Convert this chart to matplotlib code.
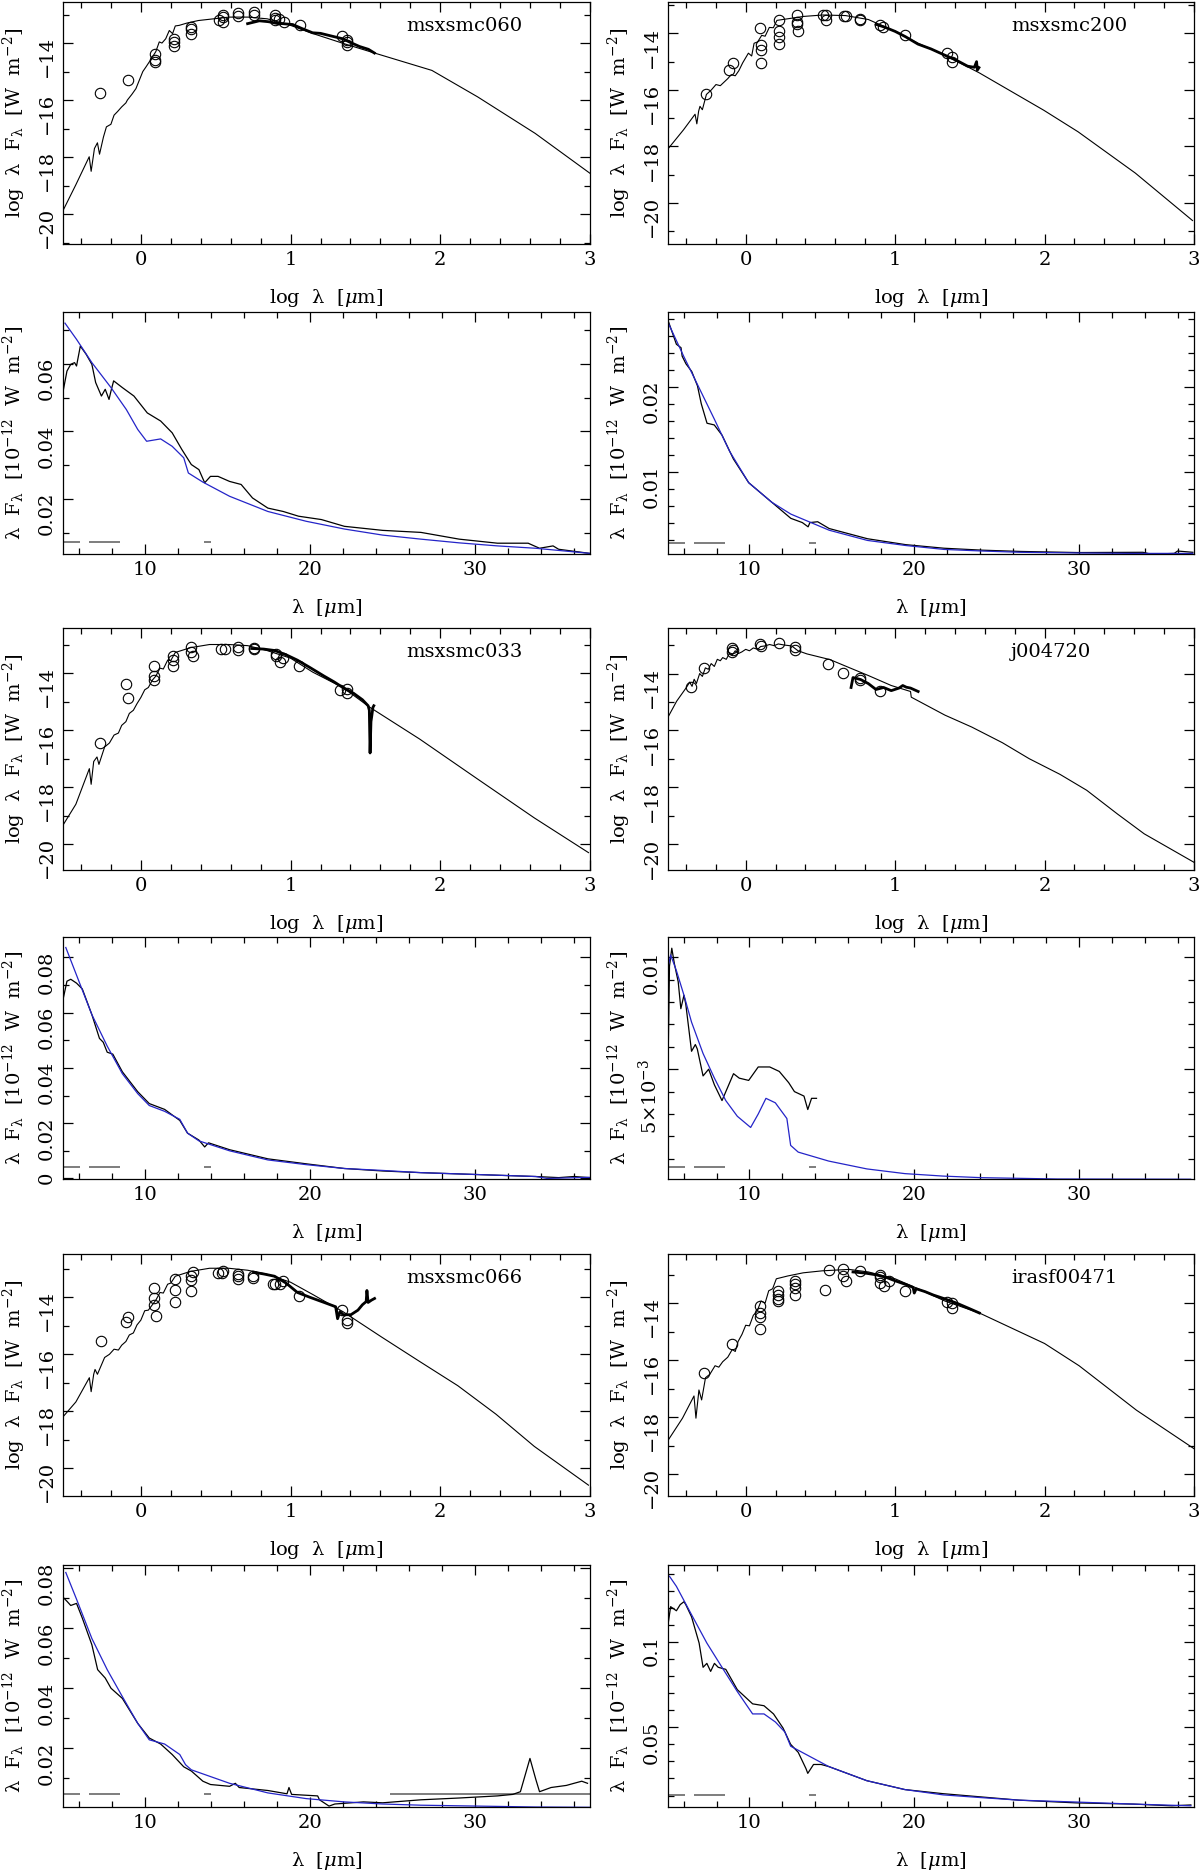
import matplotlib
matplotlib.use("Agg")
import matplotlib.pyplot as plt
from matplotlib.ticker import MultipleLocator, FuncFormatter

plt.rcParams['font.family'] = ['DejaVu Serif']
plt.rcParams['mathtext.fontset'] = 'dejavuserif'
plt.rcParams['font.size'] = 14

# ---------------- SED panels: log lambda vs log lambda F_lambda ----------------
# msxsmc060
m060_x = [-0.524, -0.435, -0.345, -0.332, -0.31, -0.29, -0.276, -0.25, -0.23, -0.2, -0.179, -0.155, -0.128, -0.1,
          -0.09, -0.06, -0.033, -0.01, 0.013, 0.034, 0.064, 0.077, 0.1, 0.123, 0.141, 0.166, 0.19, 0.212, 0.23,
          0.256, 0.307, 0.384, 0.486, 0.588, 0.716, 0.844, 1.0, 1.151, 1.356, 1.573, 1.944, 2.25, 2.634, 3.0]
m060_y = [-19.92, -18.98, -17.99, -18.5, -17.7, -17.5, -17.9, -17.3, -16.94, -16.85, -16.53, -16.4, -16.24, -16.1,
          -16.0, -15.8, -15.6, -15.3, -15.0, -14.84, -14.6, -14.49, -14.3, -13.96, -14.0, -13.85, -13.56, -13.67,
          -13.4, -13.38, -13.3, -13.21, -13.15, -13.09, -13.09, -13.15, -13.38, -13.67, -14.02, -14.37, -14.96,
          -15.89, -17.17, -18.57]
irs060_x = [0.713, 0.791, 0.85, 0.903, 1.014, 1.08, 1.147, 1.2, 1.27, 1.348, 1.4, 1.46, 1.52, 1.56]
irs060_y = [-13.32, -13.22, -13.25, -13.3, -13.35, -13.5, -13.64, -13.66, -13.75, -13.85, -13.98, -14.12, -14.22, -14.35]
ph060_x = [-0.271, -0.089, 0.094, 0.094, 0.094, 0.223, 0.223, 0.223, 0.335, 0.335, 0.335, 0.52, 0.546, 0.546, 0.546,
           0.651, 0.651, 0.758, 0.758, 0.898, 0.898, 0.898, 0.925, 0.958, 1.063, 1.344, 1.375, 1.375, 1.375]
ph060_y = [-15.75, -15.31, -14.37, -14.6, -14.67, -13.85, -13.96, -14.12, -13.42, -13.5, -13.67, -13.2, -13.0, -13.09,
           -13.26, -12.95, -13.05, -12.91, -13.0, -13.0, -13.12, -13.2, -13.14, -13.26, -13.38, -13.77, -13.91,
           -13.96, -14.06]

# msxsmc200
m200_x = [-0.513, -0.416, -0.339, -0.327, -0.315, -0.306, -0.29, -0.263, -0.23, -0.199, -0.17, -0.148, -0.12, -0.097,
          -0.07, -0.046, -0.02, 0.018, 0.04, 0.056, 0.08, 0.107, 0.13, 0.158, 0.185, 0.209, 0.286, 0.388, 0.515,
          0.668, 0.821, 1.0, 1.153, 1.332, 1.561, 1.995, 2.224, 2.607, 2.99]
m200_y = [-18.04, -17.41, -16.86, -17.2, -16.75, -16.58, -16.7, -16.16, -16.0, -15.81, -15.85, -15.74, -15.6, -15.46,
          -15.5, -15.32, -15.04, -14.7, -14.8, -14.35, -14.3, -14.07, -14.1, -13.79, -13.8, -13.54, -13.48, -13.4,
          -13.35, -13.37, -13.51, -13.93, -14.35, -14.77, -15.39, -16.72, -17.48, -18.94, -20.62]
irs200_x = [0.872, 0.93, 1.0, 1.07, 1.153, 1.24, 1.332, 1.41, 1.485, 1.53, 1.545, 1.55, 1.561]
irs200_y = [-13.68, -13.78, -13.93, -14.12, -14.38, -14.55, -14.77, -14.95, -15.16, -15.2, -15.0, -15.3, -15.21]
ph200_x = [-0.263, -0.11, -0.084, 0.094, 0.102, 0.102, 0.102, 0.222, 0.222, 0.222, 0.222, 0.342, 0.342, 0.342, 0.35,
           0.52, 0.54, 0.54, 0.66, 0.67, 0.765, 0.765, 0.9, 0.92, 1.064, 1.344, 1.378, 1.378]
ph200_y = [-16.13, -15.3, -15.04, -13.82, -14.42, -14.6, -15.04, -13.51, -13.93, -14.14, -14.38, -13.35, -13.58, -13.68,
           -13.9, -13.35, -13.35, -13.54, -13.4, -13.37, -13.48, -13.54, -13.72, -13.79, -14.04, -14.7, -14.84, -15.02]

# msxsmc033
m033_x = [-0.523, -0.434, -0.344, -0.332, -0.315, -0.293, -0.28, -0.242, -0.21, -0.179, -0.15, -0.128, -0.1, -0.077,
          -0.05, -0.026, 0.0, 0.026, 0.05, 0.077, 0.1, 0.128, 0.15, 0.179, 0.2, 0.23, 0.332, 0.459, 0.587, 0.714,
          0.842, 1.0, 1.148, 1.352, 1.531, 1.862, 2.245, 2.628, 2.99]
m033_y = [-19.36, -18.6, -17.35, -17.9, -17.1, -16.94, -17.2, -16.59, -16.45, -16.17, -16.1, -15.83, -15.7, -15.41,
          -15.3, -15.07, -14.85, -14.58, -14.5, -14.24, -14.1, -13.82, -13.85, -13.54, -13.55, -13.27, -13.1, -12.99,
          -12.99, -13.03, -13.2, -13.47, -13.96, -14.51, -15.2, -16.31, -17.7, -19.08, -20.3]
irs033_x = [0.74, 0.82, 0.893, 0.97, 1.046, 1.13, 1.224, 1.29, 1.352, 1.42, 1.48, 1.518, 1.526, 1.531, 1.537, 1.543,
            1.55, 1.556]
irs033_y = [-13.13, -13.15, -13.2, -13.35, -13.54, -13.8, -14.1, -14.3, -14.51, -14.7, -14.93, -15.14, -15.3, -16.8,
            -15.7, -15.48, -15.2, -15.14]
ph033_x = [-0.276, -0.102, -0.084, 0.089, 0.089, 0.089, 0.217, 0.217, 0.217, 0.338, 0.338, 0.345, 0.535, 0.56, 0.65,
           0.65, 0.753, 0.753, 0.9, 0.905, 0.93, 0.949, 1.059, 1.33, 1.375, 1.375]
ph033_y = [-16.45, -14.37, -14.86, -13.75, -14.1, -14.24, -13.38, -13.54, -13.75, -13.06, -13.24, -13.38, -13.16,
           -13.16, -13.06, -13.2, -13.13, -13.15, -13.34, -13.4, -13.61, -13.47, -13.75, -14.58, -14.54, -14.68]

# j004720
m720_x = [-0.52, -0.462, -0.397, -0.375, -0.359, -0.345, -0.33, -0.308, -0.29, -0.27, -0.25, -0.231, -0.21, -0.19,
          -0.17, -0.154, -0.13, -0.11, -0.09, -0.07, -0.05, -0.026, 0.0, 0.025, 0.051, 0.08, 0.1, 0.128, 0.16, 0.19,
          0.218, 0.26, 0.308, 0.35, 0.41, 0.564, 0.692, 0.821, 0.974, 1.103, 1.108, 1.333, 1.513, 1.718, 1.897,
          2.103, 2.282, 2.487, 2.667, 3.0]
m720_y = [-15.53, -14.97, -14.49, -14.3, -14.45, -14.2, -14.35, -14.0, -14.1, -13.8, -13.85, -13.65, -13.75, -13.5,
          -13.55, -13.44, -13.5, -13.3, -13.35, -13.2, -13.3, -13.24, -13.15, -13.2, -13.1, -13.15, -13.05, -13.03,
          -12.98, -13.02, -12.96, -13.0, -13.03, -13.2, -13.31, -13.51, -13.79, -14.07, -14.42, -14.63, -14.83,
          -15.46, -15.88, -16.43, -16.99, -17.54, -18.1, -18.93, -19.63, -20.63]
irs720_x = [0.705, 0.712, 0.718, 0.769, 0.82, 0.872, 0.923, 0.974, 1.026, 1.051, 1.075, 1.103, 1.154]
irs720_y = [-14.49, -14.3, -14.14, -14.21, -14.35, -14.56, -14.49, -14.6, -14.51, -14.42, -14.48, -14.51, -14.63]
ph720_x = [-0.364, -0.277, -0.095, -0.09, -0.085, 0.095, 0.1, 0.223, 0.333, 0.333, 0.551, 0.654, 0.764, 0.764, 0.897]
ph720_y = [-14.46, -13.79, -13.12, -13.24, -13.18, -12.96, -13.03, -12.92, -13.07, -13.17, -13.65, -13.97, -14.14,
           -14.24, -14.63]

# msxsmc066
m066_x = [-0.523, -0.434, -0.344, -0.332, -0.315, -0.306, -0.29, -0.242, -0.21, -0.179, -0.15, -0.128, -0.1, -0.077,
          -0.05, -0.026, 0.0, 0.026, 0.05, 0.077, 0.1, 0.128, 0.15, 0.179, 0.2, 0.23, 0.332, 0.459, 0.587, 0.714,
          0.842, 1.0, 1.148, 1.352, 1.607, 1.862, 2.117, 2.372, 2.628, 2.99]
m066_y = [-18.21, -17.67, -16.82, -17.31, -16.7, -16.53, -16.7, -16.11, -16.0, -15.82, -15.85, -15.68, -15.55, -15.32,
          -15.25, -14.97, -14.8, -14.47, -14.45, -14.26, -14.1, -13.83, -13.85, -13.54, -13.5, -13.26, -13.09, -12.98,
          -12.98, -13.05, -13.19, -13.47, -13.9, -14.51, -15.39, -16.25, -17.1, -18.1, -19.23, -20.59]
irs066_x = [0.753, 0.82, 0.893, 0.97, 1.046, 1.13, 1.224, 1.301, 1.314, 1.33, 1.352, 1.403, 1.45, 1.48, 1.505, 1.51,
            1.518, 1.54, 1.561]
irs066_y = [-13.12, -13.18, -13.26, -13.5, -13.83, -14.0, -14.18, -14.33, -14.75, -14.5, -14.61, -14.61, -14.45,
            -14.26, -14.15, -13.76, -14.18, -14.1, -14.04]
ph066_x = [-0.268, -0.1, -0.085, 0.09, 0.09, 0.09, 0.098, 0.225, 0.225, 0.225, 0.332, 0.332, 0.332, 0.35, 0.515, 0.54,
           0.55, 0.65, 0.65, 0.65, 0.75, 0.75, 0.88, 0.893, 0.93, 0.949, 1.059, 1.344, 1.378, 1.378]
ph066_y = [-15.54, -14.87, -14.68, -13.69, -14.01, -14.26, -14.65, -13.37, -13.76, -14.18, -13.26, -13.4, -13.79,
           -13.12, -13.15, -13.15, -13.09, -13.19, -13.37, -13.26, -13.26, -13.33, -13.52, -13.55, -13.52, -13.44,
           -13.97, -14.43, -14.8, -14.9]

# irasf00471
m471_x = [-0.52, -0.423, -0.346, -0.333, -0.313, -0.295, -0.269, -0.24, -0.205, -0.18, -0.154, -0.12, -0.09, -0.07,
          -0.051, -0.025, 0.0, 0.025, 0.051, 0.075, 0.103, 0.13, 0.154, 0.18, 0.205, 0.282, 0.385, 0.513, 0.692,
          0.821, 1.0, 1.154, 1.333, 1.564, 2.0, 2.231, 2.615, 3.0]
m471_y = [-18.82, -18.04, -17.26, -18.04, -17.05, -17.4, -16.62, -16.5, -16.2, -16.25, -16.06, -15.9, -15.63, -15.7,
          -15.35, -15.1, -14.78, -14.8, -14.43, -14.3, -13.93, -14.0, -13.57, -13.5, -13.15, -13.05, -12.94, -12.87,
          -12.82, -12.91, -13.15, -13.5, -13.93, -14.35, -15.42, -16.2, -17.76, -19.11]
irs471_x = [0.718, 0.8, 0.872, 0.94, 1.0, 1.077, 1.12, 1.128, 1.141, 1.2, 1.256, 1.33, 1.41, 1.49, 1.564]
irs471_y = [-12.91, -12.95, -13.01, -13.1, -13.22, -13.36, -13.45, -13.65, -13.5, -13.6, -13.72, -13.85, -14.0, -14.18,
            -14.35]
ph471_x = [-0.277, -0.09, 0.095, 0.095, 0.095, 0.095, 0.218, 0.218, 0.218, 0.218, 0.333, 0.333, 0.333, 0.333, 0.531,
           0.556, 0.65, 0.65, 0.668, 0.762, 0.9, 0.9, 0.9, 0.926, 0.962, 1.064, 1.35, 1.38, 1.38]
ph471_y = [-16.45, -15.45, -14.1, -14.35, -14.5, -14.92, -13.57, -13.72, -13.86, -13.93, -13.22, -13.33, -13.48,
           -13.72, -13.53, -12.84, -12.82, -13.05, -13.22, -12.87, -13.01, -13.08, -13.29, -13.39, -13.22, -13.57,
           -13.96, -14.0, -14.18]

# ---------------- IRS spectra: lambda vs lambda F_lambda ----------------
s060_x = [5.06, 5.29, 5.52, 5.75, 5.87, 6.1, 6.45, 6.8, 7.03, 7.38, 7.61, 7.84, 7.96, 8.12, 8.65, 9.35, 10.16, 10.97,
          11.67, 12.25, 12.83, 13.29, 13.64, 13.99, 14.45, 15.15, 15.85, 16.54, 17.47, 18.4, 19.33, 20.72, 22.11,
          24.43, 26.75, 27.91, 29.07, 31.39, 33.25, 33.94, 34.76, 35.1, 36.96]
s060_y = [0.052, 0.0579, 0.0599, 0.0604, 0.0594, 0.0653, 0.0629, 0.0599, 0.0545, 0.0505, 0.0525, 0.0495, 0.052, 0.055,
          0.053, 0.0505, 0.0455, 0.0431, 0.0396, 0.0347, 0.0302, 0.0287, 0.0248, 0.0267, 0.0267, 0.0252, 0.0243,
          0.0203, 0.0173, 0.0163, 0.0149, 0.0139, 0.0119, 0.0107, 0.0101, 0.0091, 0.0081, 0.0069, 0.0069, 0.0054,
          0.0061, 0.0051, 0.0039]
f060_x = [5.17, 5.87, 6.8, 7.96, 8.89, 9.58, 10.12, 10.97, 11.67, 12.37, 12.65, 13.53, 15.15, 17.47, 19.79, 22.11,
          24.43, 26.75, 29.07, 31.39, 33.71, 36.96]
f060_y = [0.0721, 0.0673, 0.0604, 0.053, 0.0465, 0.0406, 0.0371, 0.0378, 0.0356, 0.0322, 0.0277, 0.025, 0.0208, 0.0163,
          0.0134, 0.0111, 0.0093, 0.0081, 0.007, 0.0061, 0.0054, 0.0039]

s200_x = [5.09, 5.56, 5.84, 5.91, 6.14, 6.49, 6.84, 7.07, 7.42, 7.86, 8.33, 9.02, 9.95, 11.35, 12.51, 13.21, 13.56,
          13.67, 14.14, 14.84, 17.16, 19.49, 21.81, 24.14, 26.47, 29.95, 33.9, 34.4, 35.8, 36.0, 36.93]
s200_y = [0.0276, 0.025, 0.0246, 0.0236, 0.0227, 0.0218, 0.0201, 0.018, 0.0157, 0.0155, 0.0143, 0.0115, 0.0087, 0.0064,
          0.0045, 0.004, 0.0035, 0.004, 0.0041, 0.0033, 0.0021, 0.0014, 0.00098, 0.00075, 0.0006, 0.00047, 0.0005,
          0.00028, 0.00037, 0.00065, 0.0005]
f200_x = [5.09, 6.0, 6.93, 7.86, 8.79, 9.95, 11.35, 12.51, 14.84, 17.16, 19.49, 21.81, 24.14, 26.47, 29.95, 33.44, 36.93]
f200_y = [0.0274, 0.0236, 0.0199, 0.0162, 0.0124, 0.0087, 0.0064, 0.005, 0.0031, 0.0019, 0.0013, 0.00084, 0.00065,
          0.0005, 0.00042, 0.00037, 0.00037]

s033_x = [5.06, 5.29, 5.52, 5.87, 6.22, 6.8, 7.26, 7.49, 7.73, 8.07, 8.65, 9.58, 10.28, 11.21, 12.13, 12.6, 13.29,
          13.64, 13.87, 15.15, 17.47, 19.79, 22.11, 24.43, 26.75, 30.23, 33.71, 35.1, 36.03, 36.96]
s033_y = [0.065, 0.0714, 0.0721, 0.0707, 0.0686, 0.0593, 0.0507, 0.0493, 0.0457, 0.045, 0.0386, 0.0314, 0.0271, 0.025,
          0.021, 0.0164, 0.0139, 0.0114, 0.0129, 0.0104, 0.0071, 0.0053, 0.0036, 0.0027, 0.0021, 0.0014, 0.0007,
          0.0003, 0.0007, 0.0003]
f033_x = [5.22, 5.87, 6.8, 7.73, 8.65, 9.58, 10.28, 11.21, 12.13, 12.6, 13.29, 15.15, 17.47, 19.79, 22.11, 24.43,
          26.75, 30.23, 33.71, 34.4, 36.96]
f033_y = [0.0836, 0.0736, 0.0593, 0.0479, 0.0379, 0.0307, 0.0264, 0.0243, 0.0214, 0.0164, 0.0136, 0.01, 0.0067, 0.005,
          0.0036, 0.0029, 0.0021, 0.0014, 0.0007, 0.0, 0.0004]

s720_x = [5.05, 5.14, 5.28, 5.44, 5.67, 5.83, 6.02, 6.13, 6.48, 6.71, 6.83, 7.18, 7.52, 7.87, 8.33, 9.03, 9.38, 9.95,
          10.53, 10.76, 11.23, 11.81, 12.38, 12.73, 13.31, 13.54, 13.77, 14.07]
s720_y = [0.005, 0.0096, 0.0104, 0.0097, 0.0089, 0.0077, 0.0083, 0.0079, 0.0058, 0.0061, 0.0059, 0.0047, 0.005, 0.0043,
          0.0036, 0.0048, 0.0046, 0.0045, 0.0051, 0.0051, 0.0051, 0.0049, 0.0044, 0.004, 0.0038, 0.0032, 0.0037,
          0.0037]
f720_x = [5.09, 5.21, 5.56, 6.02, 6.48, 7.18, 7.87, 8.56, 9.26, 10.07, 10.53, 11.0, 11.57, 12.27, 12.5, 12.96, 14.81,
          17.13, 19.44, 21.76, 24.07, 28.7, 36.8]
f720_y = [0.0097, 0.0101, 0.0094, 0.0083, 0.0071, 0.0057, 0.0046, 0.0036, 0.0029, 0.0024, 0.003, 0.0037, 0.0035,
          0.0028, 0.0016, 0.0013, 0.0009, 0.00055, 0.00034, 0.00023, 0.00016, 0.0001, 0.00009]

s066_x = [5.06, 5.29, 5.52, 5.87, 6.22, 6.8, 7.15, 7.61, 7.96, 8.65, 9.58, 10.28, 10.97, 11.67, 12.37, 12.83, 13.53,
          13.99, 15.15, 15.5, 15.73, 17.47, 18.63, 18.75, 18.91, 20.49, 20.6, 21.18, 21.53, 23.27, 24.43, 26.75, 29.07,
          31.39, 32.32, 32.78, 33.36, 33.71, 33.94, 34.64, 35.57, 36.03, 36.5, 36.85]
s066_y = [0.0703, 0.069, 0.0676, 0.0683, 0.0634, 0.0545, 0.0462, 0.0434, 0.04, 0.0366, 0.0283, 0.0234, 0.0214, 0.0179,
          0.0138, 0.0124, 0.009, 0.0079, 0.0073, 0.0083, 0.0069, 0.0059, 0.0048, 0.0069, 0.0046, 0.0041, 0.0028,
          0.0007, 0.0014, 0.0021, 0.0018, 0.0028, 0.0034, 0.0041, 0.0046, 0.0055, 0.0166, 0.0097, 0.0055, 0.0069,
          0.0076, 0.0083, 0.009, 0.0083]
f066_x = [5.22, 5.87, 6.8, 7.73, 8.65, 9.58, 10.28, 11.21, 12.13, 12.48, 12.83, 15.15, 17.47, 19.79, 22.11, 24.43,
          26.75, 30.23, 33.71, 36.96]
f066_y = [0.0786, 0.0697, 0.0566, 0.0462, 0.0372, 0.0283, 0.0228, 0.0214, 0.0179, 0.0145, 0.0128, 0.0083, 0.0051,
          0.0032, 0.0021, 0.0014, 0.001, 0.0007, 0.0004, 0.0003]

s471_x = [5.05, 5.21, 5.56, 5.79, 6.02, 6.13, 6.48, 6.94, 7.18, 7.41, 7.64, 7.87, 8.1, 8.56, 9.26, 10.19, 10.88, 11.46,
          12.04, 12.5, 12.96, 13.43, 13.54, 13.89, 14.35, 14.81, 17.13, 19.44, 21.76, 24.07, 26.39, 29.86, 33.33,
          35.65, 36.81]
s471_y = [0.11, 0.1206, 0.1182, 0.1218, 0.1235, 0.1218, 0.1147, 0.0993, 0.0851, 0.0874, 0.0827, 0.0874, 0.0851,
          0.0839, 0.072, 0.0637, 0.0626, 0.0578, 0.0495, 0.04, 0.0353, 0.0258, 0.023, 0.0282, 0.0282, 0.027, 0.0187,
          0.0135, 0.0111, 0.0092, 0.0073, 0.0057, 0.005, 0.004, 0.0045]
f471_x = [5.14, 5.56, 6.48, 7.41, 8.33, 9.26, 10.19, 10.88, 11.57, 12.15, 12.5, 13.43, 14.81, 17.13, 19.44, 21.76,
          24.07, 26.39, 29.86, 33.33, 36.81]
f471_y = [0.1384, 0.1325, 0.1159, 0.0993, 0.0851, 0.0709, 0.0578, 0.0578, 0.0531, 0.0472, 0.0389, 0.0341, 0.027,
          0.0187, 0.0135, 0.0104, 0.0088, 0.0073, 0.0062, 0.005, 0.004]

# grey reference segments near the bottom of each spectrum panel
seg_lo = [5.05, 6.6, 13.6]
seg_hi = [6.1, 8.5, 14.05]
grey_levels = [0.0072, 0.0016, 0.0043, 0.00064, 0.0046, 0.0104]

names = ['msxsmc060', 'msxsmc200', 'msxsmc033', 'j004720', 'msxsmc066', 'irasf00471']

W, H = 1200, 1876
fig = plt.figure(figsize=(W / 100, H / 100), dpi=100)

col_x = [63, 668]
col_w = [527, 526]
row_top = [2, 312, 628, 937, 1254, 1565]
row_h = 242


def make_ax(row, col):
    x0, w = col_x[col], col_w[col]
    top = row_top[row]
    ax = fig.add_axes([x0 / W, 1 - (top + row_h) / H, w / W, row_h / H])
    ax.set_facecolor('none')
    ax.tick_params(which='both', direction='in', top=True, right=True, width=0.9, pad=5)
    ax.tick_params(which='major', length=7)
    ax.tick_params(which='minor', length=4)
    ax.tick_params(axis='y', labelrotation=90)
    for sp in ax.spines.values():
        sp.set_linewidth(0.9)
    ax.xaxis.set_label_coords(0.5, -54 / row_h)
    ax.yaxis.set_label_coords(-49 / w, 0.5)
    return ax


def minus_fmt(v, pos):
    return ('%g' % v).replace('-', '\u2212')


def sed_panel(ax, name, mx, my, ix, iy, px, py, ylim):
    ax.plot(mx, my, color='k', lw=0.8)
    ax.plot(ix, iy, color='k', lw=2.0)
    ax.plot(px, py, 'o', mfc='none', mec='k', ms=7.5, mew=0.8)
    ax.set_xlim(-0.52, 3.0)
    ax.set_ylim(*ylim)
    ax.xaxis.set_major_locator(MultipleLocator(1))
    ax.xaxis.set_minor_locator(MultipleLocator(0.2))
    ax.yaxis.set_major_locator(MultipleLocator(2))
    ax.yaxis.set_minor_locator(MultipleLocator(1))
    ax.xaxis.set_major_formatter(FuncFormatter(minus_fmt))
    ax.yaxis.set_major_formatter(FuncFormatter(minus_fmt))
    ax.set_xlabel('log  λ  [$\\mu$m]', va='center')
    ax.set_ylabel('log  λ  F$_\\mathrm{λ}$  [W  m$^{-2}$]', va='center')
    ax.text(0.652, 1 - 24 / row_h, name, transform=ax.transAxes, ha='left', va='center')


def spec_panel(ax, sx, sy, fx, fy, level, ylim, major, minor, fmt=None, extra=None):
    ax.hlines([level] * len(seg_lo), seg_lo, seg_hi, color='0.45', lw=1.3)
    if extra is not None:
        ax.hlines(level, extra[0], extra[1], color='0.45', lw=1.3)
    ax.plot(sx, sy, color='k', lw=0.9)
    ax.plot(fx, fy, color='#2424c8', lw=0.9)
    ax.set_xlim(5.05, 37.0)
    ax.set_ylim(*ylim)
    ax.xaxis.set_major_locator(MultipleLocator(10))
    ax.xaxis.set_minor_locator(MultipleLocator(2))
    ax.yaxis.set_major_locator(MultipleLocator(major))
    ax.yaxis.set_minor_locator(MultipleLocator(minor))
    ax.yaxis.set_major_formatter(FuncFormatter(fmt if fmt else minus_fmt))
    ax.set_xlabel('λ  [$\\mu$m]', va='center')
    ax.set_ylabel('λ  F$_\\mathrm{λ}$  [10$^{-12}$  W  m$^{-2}$]', va='center')


def small_fmt(v, pos):
    if abs(v - 0.005) < 1e-9:
        return '5×10$^{-3}$'
    return '%g' % v


sed_panel(make_ax(0, 0), names[0], m060_x, m060_y, irs060_x, irs060_y, ph060_x, ph060_y, (-21.05, -12.56))
sed_panel(make_ax(0, 1), names[1], m200_x, m200_y, irs200_x, irs200_y, ph200_x, ph200_y, (-21.45, -12.89))
sed_panel(make_ax(2, 0), names[2], m033_x, m033_y, irs033_x, irs033_y, ph033_x, ph033_y, (-20.91, -12.41))
sed_panel(make_ax(2, 1), names[3], m720_x, m720_y, irs720_x, irs720_y, ph720_x, ph720_y, (-20.90, -12.40))
sed_panel(make_ax(4, 0), names[4], m066_x, m066_y, irs066_x, irs066_y, ph066_x, ph066_y, (-20.97, -12.48))
sed_panel(make_ax(4, 1), names[5], m471_x, m471_y, irs471_x, irs471_y, ph471_x, ph471_y, (-20.77, -12.28))

spec_panel(make_ax(1, 0), s060_x, s060_y, f060_x, f060_y, grey_levels[0], (0.0037, 0.0754), 0.02, 0.01)
spec_panel(make_ax(1, 1), s200_x, s200_y, f200_x, f200_y, grey_levels[1], (0.0003, 0.0288), 0.01, 0.002)
spec_panel(make_ax(3, 0), s033_x, s033_y, f033_x, f033_y, grey_levels[2], (-0.0002, 0.0874), 0.02, 0.01)
spec_panel(make_ax(3, 1), s720_x, s720_y, f720_x, f720_y, grey_levels[3], (0.0001, 0.0109), 0.005, 0.001,
           fmt=small_fmt)
spec_panel(make_ax(5, 0), s066_x, s066_y, f066_x, f066_y, grey_levels[4], (0.0004, 0.0811), 0.02, 0.01,
           extra=(24.9, 37.0))
spec_panel(make_ax(5, 1), s471_x, s471_y, f471_x, f471_y, grey_levels[5], (0.0033, 0.145), 0.05, 0.01)

fig.savefig('out.png', dpi=100)
